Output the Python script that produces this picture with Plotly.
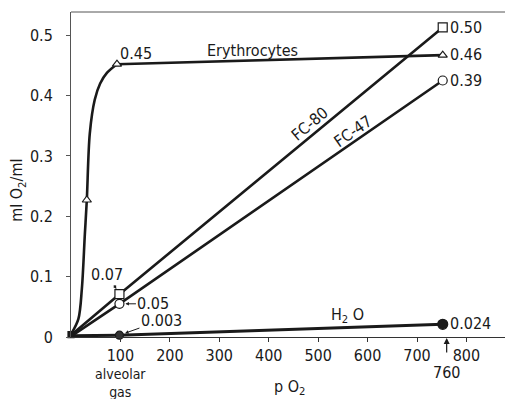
import plotly.graph_objects as go

# ---- data ----
ery_curve_x = [1, 15, 22, 28, 32, 38, 48, 59, 73, 93]
ery_curve_y = [0.006, 0.03, 0.08, 0.17, 0.227, 0.337, 0.393, 0.42, 0.438, 0.452]
ery_line_x = [93, 752]
ery_line_y = [0.452, 0.467]
ery_mark_x = [32, 93, 752]
ery_mark_y = [0.227, 0.452, 0.467]

fc80_x = [0, 98, 752]
fc80_y = [0.003, 0.071, 0.513]
fc47_x = [0, 98, 752]
fc47_y = [0.001, 0.055, 0.425]
h2o_x = [0, 98, 752]
h2o_y = [0.002, 0.003, 0.021]

x_ticks = [100, 200, 300, 400, 500, 600, 700, 800]
y_ticks = [0, 0.1, 0.2, 0.3, 0.4, 0.5]
y_ticktext = ["0", "0.1", "0.2", "0.3", "0.4", "0.5"]

FONT = "DejaVu Sans Condensed, DejaVu Sans, sans-serif"
INK = "#1a1a1a"
FS = 16

fig = go.Figure()

def line(x, y, shape="linear", w=2.6):
    fig.add_trace(go.Scatter(x=x, y=y, mode="lines", line=dict(color=INK, width=w, shape=shape, smoothing=0.9),
                             hoverinfo="skip", showlegend=False, cliponaxis=False))

line(ery_curve_x, ery_curve_y, shape="spline")
line(ery_line_x, ery_line_y)
line(fc80_x, fc80_y)
line(fc47_x, fc47_y)
line(h2o_x, h2o_y, w=3)

def marks(x, y, symbol, size, fill="white"):
    fig.add_trace(go.Scatter(x=x, y=y, mode="markers",
                             marker=dict(symbol=symbol, size=size, color=fill, line=dict(color=INK, width=1.2)),
                             hoverinfo="skip", showlegend=False, cliponaxis=False))

marks(ery_mark_x, ery_mark_y, "triangle-up", 8)
marks(fc80_x[1:], fc80_y[1:], "square", 9)
marks(fc47_x[1:], fc47_y[1:], "circle", 9)
marks([h2o_x[1]], [h2o_y[1]], "circle", 8, fill="#333")
marks([h2o_x[2]], [h2o_y[2]], "circle", 10, fill=INK)
marks([0], [0.004], "square", 6, fill=INK)

ann = []
def text(x, y, t, size=FS, xanchor="center", yanchor="middle", angle=0, xref="x", yref="y"):
    ann.append(dict(x=x, y=y, xref=xref, yref=yref, text=t, showarrow=False, xanchor=xanchor,
                    yanchor=yanchor, textangle=angle, font=dict(family=FONT, size=size, color=INK)))

text(95, 0.469, "0.45", xanchor="left")
text(367, 0.475, "Erythrocytes")
text(762, 0.513, "0.50", xanchor="left")
text(762, 0.468, "0.46", xanchor="left")
text(762, 0.425, "0.39", xanchor="left")
text(484, 0.353, "FC-80", angle=-40)
text(570, 0.341, "FC-47", angle=-35)
text(560, 0.036, "H<sub>2</sub> O")
text(762, 0.022, "0.024", xanchor="left")

for (px, py, t, ax, ay) in [(98, 0.071, "0.07", -12, -20), (98, 0.055, "0.05", 34, 0), (98, 0.003, "0.003", 42, -15)]:
    ann.append(dict(x=px, y=py, xref="x", yref="y", text=t, showarrow=True, ax=ax, ay=ay,
                    arrowhead=2, arrowsize=0.7, arrowwidth=1, arrowcolor=INK, standoff=6,
                    font=dict(family=FONT, size=FS, color=INK)))

# below-axis texts
text(100, -0.14, "alveolar<br>gas", size=14, yref="paper")
text(760, -0.108, "760", yref="paper")
ann.append(dict(x=760, y=0.0, xref="x", yref="paper", text="", showarrow=True, ax=0, ay=17,
                arrowhead=2, arrowsize=1, arrowwidth=1.2, arrowcolor=INK, standoff=1))
text(443, -0.155, "p O<sub>2</sub>", yref="paper")
text(-0.122, 0.45, "ml O<sub>2</sub>/ml", xref="paper", yref="paper", angle=-90)
fig.update_layout(annotations=ann)

fig.add_shape(type="line", xref="paper", yref="paper", x0=0, x1=1, y0=1, y1=1,
              line=dict(color="#555", width=1))

fig.update_layout(
    width=505, height=399,
    margin=dict(l=71, r=0, t=12, b=62),
    paper_bgcolor="white", plot_bgcolor="white",
    xaxis=dict(range=[0, 878], tickvals=x_ticks, showgrid=False, zeroline=False,
               showline=True, linecolor="#333", linewidth=1, ticks="outside", ticklen=4,
               tickcolor="#333", tickfont=dict(family=FONT, size=FS, color=INK)),
    yaxis=dict(range=[0, 0.5385], tickvals=y_ticks, ticktext=y_ticktext, showgrid=False, zeroline=False,
               showline=True, linecolor="#555", linewidth=1, ticks="outside", ticklen=4,
               tickcolor="#555", ticklabelstandoff=10, tickfont=dict(family=FONT, size=FS, color=INK)),
)

fig.write_html("out.html")
